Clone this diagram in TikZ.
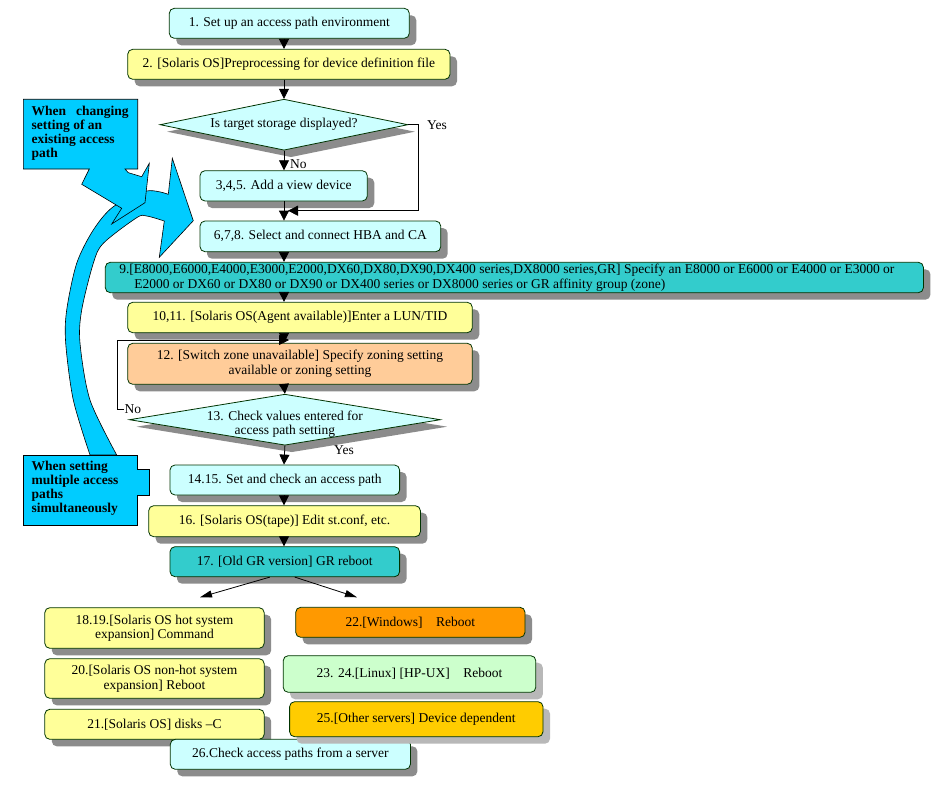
\documentclass[tikz,border=0pt]{standalone}
\usepackage{fontspec}
\setmainfont{Liberation Serif}
\usetikzlibrary{shadows,arrows.meta,shapes.geometric}
\definecolor{cy}{HTML}{CCFFFF}
\definecolor{ye}{HTML}{FFFF99}
\definecolor{te}{HTML}{33CCCC}
\definecolor{pe}{HTML}{FFCC99}
\definecolor{orn}{HTML}{FF9900}
\definecolor{gr}{HTML}{CCFFCC}
\definecolor{go}{HTML}{FFCC00}
\definecolor{sky}{HTML}{00CCFF}
\definecolor{bd}{HTML}{003300}
\tikzset{
  shad/.style={drop shadow={shadow xshift=7pt, shadow yshift=-7pt, fill=black!45, opacity=1}},
  lshad/.style={drop shadow={shadow xshift=7pt, shadow yshift=-7pt, fill=black!28, opacity=1}},
  box/.style={draw=bd, line width=0.8pt, rounded corners=5pt, inner sep=0pt, align=center,
    font=\fontsize{13.5}{14.5}\selectfont},
  dia/.style={draw=bd, line width=0.8pt, fill=cy, shape=diamond, inner sep=0pt, shad},
  lbl/.style={inner sep=0pt, font=\fontsize{13.5}{14.5}\selectfont},
  arr/.style={-{Triangle[width=10pt,length=10pt]}, line width=0.8pt},
  arrb/.style={-{Triangle[width=7pt,length=12pt]}, line width=0.8pt},
  call/.style={draw=black, line width=0.6pt, fill=sky},
  ctext/.style={inner sep=0pt, align=left, anchor=north west, font=\bfseries\fontsize{13.5}{14.3}\selectfont}
}
\newcommand\bx[8][shad]{\node[box,#1,fill=#7,minimum width={#5-#3},minimum height={#6-#4}] (#2) at ({(#3+#5)/2},{(#4+#6)/2}) {#8};}
\begin{document}
\begin{tikzpicture}[x=1pt,y=-1pt]
\useasboundingbox (0,0) rectangle (934,789);
\fill[white] (0,0) rectangle (934,789);
% big curved arrow
\draw[call] plot[smooth] coordinates {(90,455) (73.3,400) (65.7,343) (66.7,310) (76.7,263.3) (93.3,230) (113.3,206.7) (146.7,191) (168.3,194.3)}
  -- (172.3,158.3) -- (193.3,220.7) -- (159.3,257.3) -- (164.3,221)
  -- plot[smooth] coordinates {(164.3,221) (146.7,216) (136.7,217.7) (103.3,243.3) (93.3,263.3) (81.7,310) (80,343) (90,400) (116.7,455)} -- cycle;
% callout 1
\draw[call] (23.3,99.3) -- (137.7,99.3) -- (137.7,169) -- (125,169) -- (128.3,172.7) -- (141.7,176.7) -- (149.3,163.3) -- (145,202.7) -- (111.7,224) -- (121.7,208.3) -- (81.7,184.3) -- (89.3,169) -- (23.3,169) -- cycle;
\node[ctext] (c1t) at (31.5,105.5) {\makebox[97pt][s]{When changing}\\setting of an\\existing access\\path};
% callout 2
\draw[call] (23.3,455) -- (137.3,455) -- (137.3,469.3) -- (149.3,469.3) -- (149.3,495) -- (137.3,495) -- (137.3,525) -- (23.3,525) -- cycle;
\node[ctext] (c2t) at (31.5,460.5) {When setting\\multiple access\\paths\\simultaneously};
% boxes
\bx{b1}{169.3}{8.3}{409.3}{38.3}{cy}{1. Set up an access path environment}
\bx{b2}{127.7}{49.3}{450}{79.3}{ye}{2. [Solaris OS]Preprocessing for device definition file}
\node[dia, minimum width=248pt, minimum height=51pt] (d1) at (284,124.7) {};
\node[lbl] (d1t) at (284,124) {Is target storage displayed?};
\bx{b3}{200}{170.7}{367.3}{201}{cy}{3,4,5. Add a view device}
\bx{b6}{200}{221}{440.7}{251.7}{cy}{6,7,8. Select and connect HBA and CA}
\bx{b9}{105.3}{262.3}{923.4}{292.7}{te}{\parbox{790pt}{\raggedright 9.[E8000,E6000,E4000,E3000,E2000,DX60,DX80,DX90,DX400 series,DX8000 series,GR] Specify an E8000 or E6000 or E4000 or E3000 or\\\hspace*{15pt}E2000 or DX60 or DX80 or DX90 or DX400 series or DX8000 series or GR affinity group (zone)}}
\bx{b10}{127.7}{302.3}{472.3}{332.7}{ye}{10,11. [Solaris OS(Agent available)]Enter a LUN/TID}
\bx{b12}{127.7}{343.3}{472.3}{384.3}{pe}{12. [Switch zone unavailable] Specify zoning setting\\available or zoning setting}
\node[dia, minimum width=311pt, minimum height=51pt] (d13) at (284.9,419.7) {};
\node[lbl, align=center] (d13t) at (284.9,424) {13. Check values entered for\\access path setting};
\bx{b14}{170}{465}{399.6}{495}{cy}{14.15. Set and check an access path}
\bx{b16}{148.7}{505.7}{420.4}{536.7}{ye}{16. [Solaris OS(tape)] Edit st.conf, etc.}
\bx{b17}{170}{546.7}{399.6}{576.7}{te}{17. [Old GR version] GR reboot}
\bx{b18}{44.8}{607.7}{264.2}{648.3}{ye}{18.19.[Solaris OS hot system\\expansion] Command}
\bx{b20}{44.8}{658.7}{264.2}{698.3}{ye}{20.[Solaris OS non-hot system\\expansion] Reboot}
\bx{b21}{44.8}{709.3}{264.2}{739.3}{ye}{21.[Solaris OS] disks –C}
\bx{b22}{295.7}{607.3}{525}{637.3}{orn}{22.[Windows]\quad Reboot}
\bx[lshad]{b23}{283.2}{655.7}{535.8}{692.3}{gr}{23. 24.[Linux] [HP-UX]\quad Reboot}
\bx{b26}{170.3}{739.3}{410.4}{769.3}{cy}{26.Check access paths from a server}
\bx[lshad]{b25}{289.6}{701.7}{543}{736.7}{go}{25.[Other servers] Device dependent}
% connectors
\coordinate (xa) at (284,0);
\draw[arr] (b1.south -| xa) -- (b2.north -| xa);
\draw[arr] (b2.south -| xa) -- (d1.north);
\draw[arr] (d1.south) -- (b3.north -| xa);
\node[lbl, anchor=west] (no1) at (290,164) {No};
\coordinate (j1) at (288,210.7);
\draw[arr] (d1.east) -- ++(10,0) |- (j1);
\node[lbl, anchor=west] (yes1) at (427,125) {Yes};
\draw[arr] (b3.south -| xa) -- (b6.north -| xa);
\draw[arr] (b6.south -| xa) -- (b9.north -| xa);
\draw[arr] (b9.south -| xa) -- (b10.north -| xa);
\draw[arr] (b10.south -| xa) -- (b12.north -| xa);
\draw[arr] (b12.south -| xa) -- (d13.north);
\coordinate (nl) at (124,409.3);
\coordinate (j2) at (289,340);
\draw[arr] (nl) -- ++(-6.3,0) |- (j2);
\node[lbl, anchor=west] (no2) at (124.5,409.5) {No};
\draw[arr] (d13.south) -- (b14.north -| xa);
\node[lbl, anchor=west] (yes2) at (334,450) {Yes};
\draw[arr] (b14.south -| xa) -- (b16.north -| xa);
\draw[arr] (b16.south -| xa) -- (b17.north -| xa);
\coordinate (t1) at (200,597.3);
\coordinate (t2) at (357,597.3);
\draw[arrb] ([xshift=-15pt]b17.south) -- (t1);
\draw[arrb] ([xshift=10pt]b17.south) -- (t2);
\end{tikzpicture}
\end{document}
